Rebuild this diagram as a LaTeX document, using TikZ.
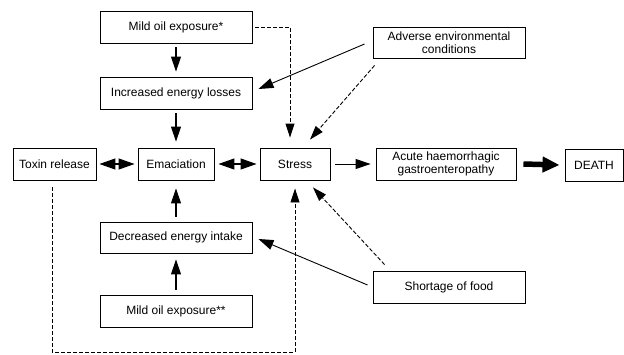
\documentclass[tikz,border=0pt]{standalone}
\usepackage{fontspec}
\setmainfont{Liberation Sans}
\usetikzlibrary{arrows.meta}
\begin{document}
\begin{tikzpicture}[x=1pt,y=-1pt,
  box/.style={draw,line width=0.9pt,minimum height=32pt,inner sep=1pt,font=\fontsize{12}{13.5}\selectfont,align=center},
  arr/.style={line width=1.1pt,-{Triangle[length=15pt,width=10pt]}},
  darr/.style={line width=0.9pt,dash pattern=on 4pt off 2pt,-{Triangle[length=14pt,width=9pt]}},
  dbl/.style={line width=1.2pt,{Triangle[length=16pt,width=11pt]}-{Triangle[length=16pt,width=11pt]}},
  thick arr/.style={line width=5.5pt,-{Triangle[length=17pt,width=15pt]}}]
\useasboundingbox (0,0) rectangle (624,354);
\node[box,minimum width=152pt] (mild1) at (176,27) {Mild oil exposure*};
\node[box,minimum width=152pt] (incr) at (176,93) {Increased energy losses};
\node[box,minimum width=83pt] (toxin) at (54.5,164) {Toxin release};
\node[box,minimum width=76pt] (emac) at (176,164) {Emaciation};
\node[box,minimum width=70pt] (stress) at (295,164) {Stress};
\node[box,minimum width=140pt] (acute) at (446,164) {Acute haemorrhagic\\gastroenteropathy};
\node[box,minimum width=58pt] (death) at (594,165) {DEATH};
\node[box,minimum width=152pt,minimum height=31pt] (adv) at (449,42.5) {Adverse environmental\\conditions};
\node[box,minimum width=152pt,minimum height=31pt] (decr) at (176,237.5) {Decreased energy intake};
\node[box,minimum width=152pt] (mild2) at (176,311) {Mild oil exposure**};
\node[box,minimum width=152pt] (short) at (449,287) {Shortage of food};
\coordinate (loopL) at (52,352);
\coordinate (loopR) at (295,352);
\draw[arr] ([yshift=-4pt]mild1.south) -- ([yshift=5pt]incr.north);
\draw[arr] ([yshift=-4pt]incr.south) -- ([yshift=6pt]emac.north);
\draw[arr] ([yshift=5pt]decr.north) -- ([yshift=-8pt]emac.south);
\draw[arr] ([yshift=5pt]mild2.north) -- ([yshift=-6pt]decr.south);
\draw[dbl] ([xshift=3pt]toxin.east) -- ([xshift=-3pt]emac.west);
\draw[dbl] ([xshift=4pt]emac.east) -- ([xshift=-3pt]stress.west);
\draw[arr,line width=0.9pt] ([xshift=5pt]stress.east) -- ([xshift=-5pt]acute.west);
\draw[thick arr] ([xshift=7pt]acute.east) -- ([xshift=-5pt]death.west);
\draw[darr] ([xshift=3pt]mild1.east) -| ([xshift=-5pt,yshift=10pt]stress.north);
\draw[arr,line width=0.9pt] ([xshift=-8pt,yshift=-1.5pt]adv.west) -- ([xshift=6pt,yshift=4pt]incr.east);
\draw[darr] ([xshift=2pt,yshift=-7pt]adv.south west) -- ([xshift=15pt,yshift=8pt]stress.north);
\draw[arr,line width=0.9pt] ([xshift=-5pt,yshift=2pt]short.west) -- ([xshift=6pt,yshift=-1.5pt]decr.east);
\draw[darr] ([xshift=12pt,yshift=6pt]short.north west) -- ([xshift=18pt,yshift=-7pt]stress.south);
\draw[darr] ([yshift=-7pt]toxin.south -| loopL) -- (loopL) -- (loopR) -- ([yshift=-8pt]stress.south);
\end{tikzpicture}
\end{document}
